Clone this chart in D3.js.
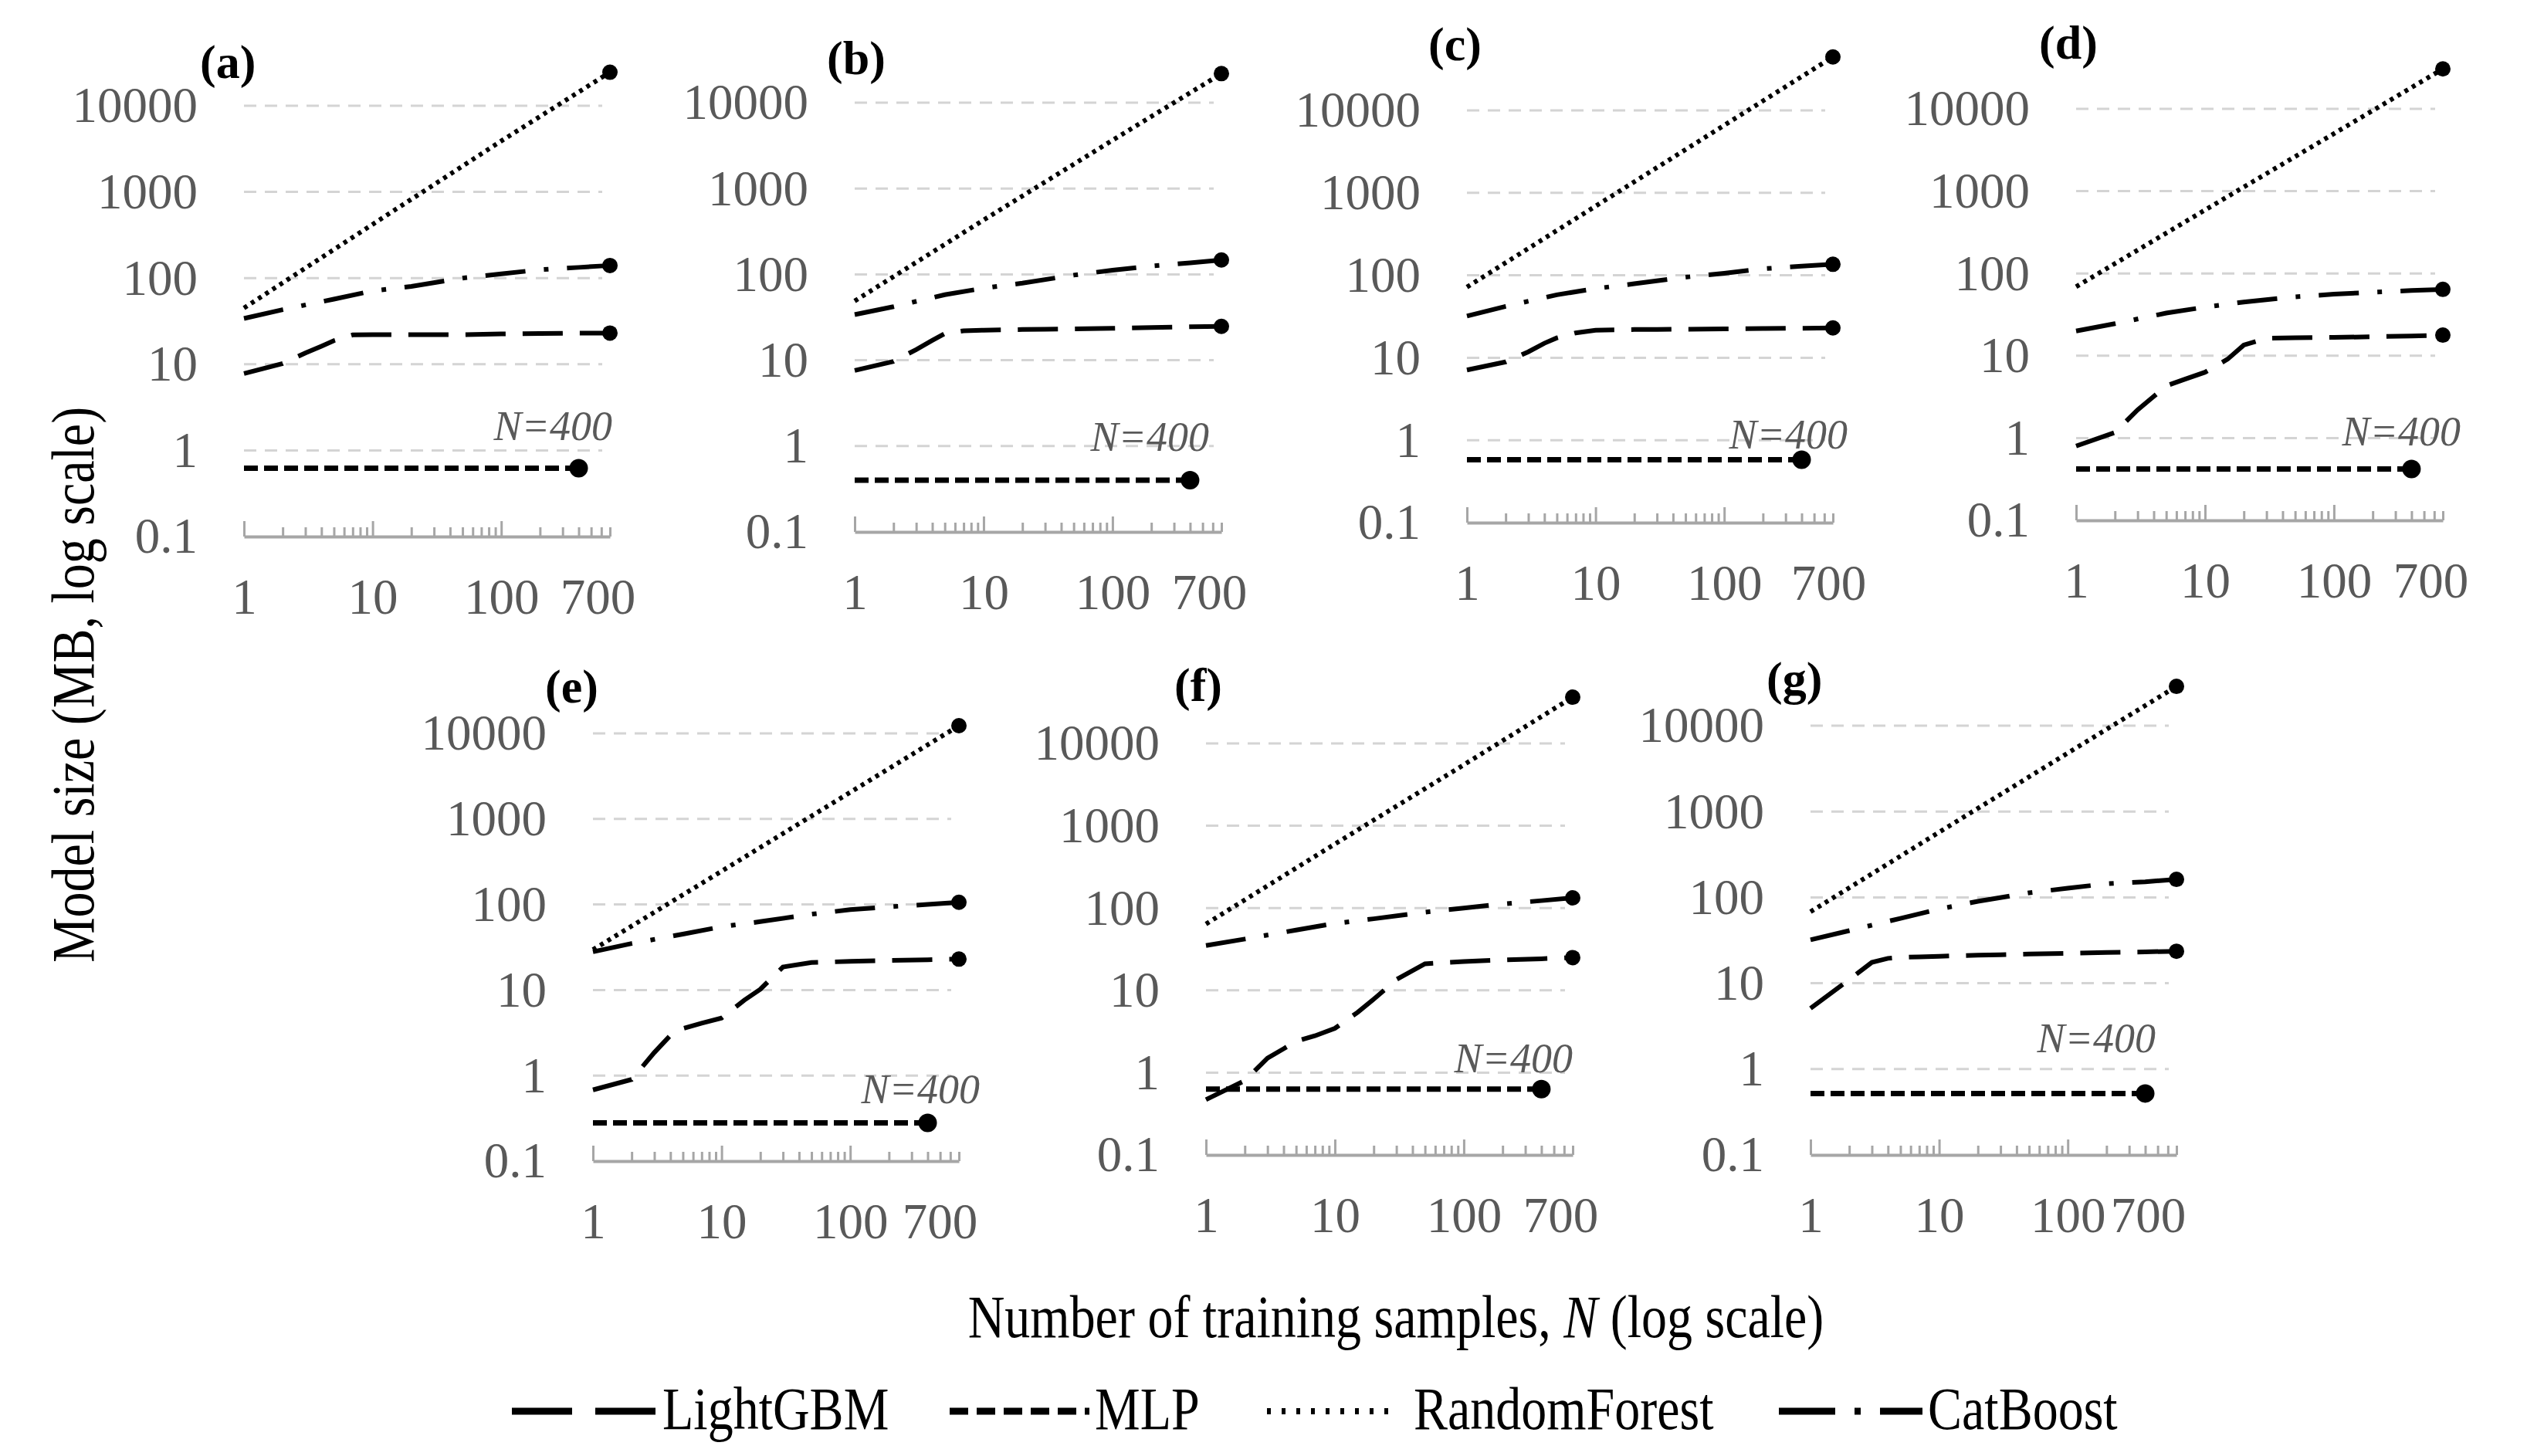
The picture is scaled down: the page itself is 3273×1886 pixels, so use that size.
<!DOCTYPE html>
<html>
<head>
<meta charset="utf-8">
<script src="https://cdn.jsdelivr.net/npm/d3@7"></script>
<style>
  body { margin: 0; background: #fff; }
  svg { display: block; }
  svg text { font-family: "Liberation Serif", "Times New Roman", serif; }
</style>
</head>
<body>
<div id="chart"></div>
<script>
// ── Data ──────────────────────────────────────────────────────────────────
const panelLabels = ["(a)", "(b)", "(c)", "(d)", "(e)", "(f)", "(g)"];
const models = ["LightGBM", "MLP", "RandomForest", "CatBoost"];
const xTicks = [1, 10, 100, 700];
const yTicks = [0.1, 1, 10, 100, 1000, 10000];

// LightGBM, model size (MB) per panel at these N
const lightgbmN = [1, 2, 3, 4, 5, 7, 10, 15, 20, 30, 50, 100, 200, 400, 700];
const lightgbmMB = [
  [7.8, 10.2, 13.5, 16.2, 18.8, 21.9, 22, 22, 22, 22, 22, 22.5, 22.7, 23, 23],
  [7.6, 9.7, 13.3, 17, 20.4, 22, 22.4, 22.6, 22.8, 23, 23.2, 23.5, 24, 24.5, 24.8],
  [7.1, 8.9, 11.8, 15, 17.4, 20, 21.6, 21.8, 22, 22, 22.2, 22.4, 22.6, 22.8, 23],
  [0.8, 1.17, 2.2, 3.2, 4.3, 5.2, 6.3, 9.1, 13.5, 16.3, 16.5, 16.7, 17, 17.4, 17.8],
  [0.68, 0.9, 1.86, 2.95, 3.55, 4.1, 4.7, 7.6, 10.2, 18.6, 21, 21.6, 22.2, 22.6, 23],
  [0.47, 0.8, 1.5, 1.95, 2.4, 2.8, 3.45, 5.4, 7.8, 13.5, 21, 22.4, 23.4, 24.2, 25],
  [5.1, 11, 17.5, 19.5, 20, 20.3, 20.6, 21, 21.2, 21.5, 21.9, 22.3, 22.8, 23.2, 23.6],
];

// MLP (trained up to N = 400 only)
const mlpN = [1, 400];
const mlpMB = [
  [0.62, 0.62], [0.4, 0.4], [0.58, 0.58], [0.42, 0.42],
  [0.28, 0.28], [0.63, 0.63], [0.52, 0.52],
];

// RandomForest
const forestN = [1, 10, 100, 700];
const forestMB = [
  [45, 420, 3900, 24500],
  [49, 430, 3650, 21800],
  [72, 690, 6600, 44500],
  [69, 590, 5000, 30600],
  [29.6, 245, 2050, 12300],
  [64, 600, 5500, 36500],
  [68, 575, 4800, 28700],
];

// CatBoost
const catboostN = [1, 2, 5, 10, 20, 50, 100, 200, 400, 700];
const catboostMB = [
  [34, 43, 57, 71, 80, 100, 112, 125, 133, 140],
  [34, 42, 58, 69, 79, 98, 112, 125, 136, 147],
  [32, 42, 58, 69, 79, 95, 106, 120, 129, 136],
  [20, 24.5, 33, 39, 45, 52, 56, 59, 62, 64],
  [28, 35, 45, 55, 63, 77, 87, 94, 100, 106],
  [35, 42, 54, 65, 74, 89, 100, 112, 123, 133],
  [32, 41, 57, 73, 90, 113, 128, 144, 152, 162],
];

// ── Layout ────────────────────────────────────────────────────────────────
const W = 3273, H = 1886;
// plot box of each panel: x of N=1 / N=700, y of 10000 / 0.1
const panelBoxes = [
  { x0: 316, x1: 790, yTop: 137, yAxis: 695 },
  { x0: 1107, x1: 1582, yTop: 133, yAxis: 689 },
  { x0: 1900, x1: 2374, yTop: 143, yAxis: 677 },
  { x0: 2689, x1: 3164, yTop: 141, yAxis: 674 },
  { x0: 768, x1: 1242, yTop: 950, yAxis: 1504 },
  { x0: 1562, x1: 2037, yTop: 963, yAxis: 1496 },
  { x0: 2345, x1: 2819, yTop: 940, yAxis: 1496 },
];
const panelLabelPos = [[259, 101], [1071, 96], [1850, 78], [2641, 76], [706, 910], [1521, 908], [2288, 900]];
const lastLabelDx = [-16, -16, -6, -16, -25, -16, -37];
const nLabelDx = [3, -16, 19, 23, 27, 0, -27];
const nLabelDy = [-13, 6, 11, 10, 36, 0, -22];

const styles = {
  LightGBM: { dash: "52,22", width: 6, legendDash: "78,30" },
  MLP: { dash: "18,8", width: 7, legendDash: "24,11" },
  RandomForest: { dash: "5,6", width: 6, legendDash: "5,14" },
  CatBoost: { dash: "52,24,6,24", width: 6, legendDash: "73,25,8,25" },
};

const tickGrey = "#595959";
const axisGrey = "#a6a6a6";

// ── SVG ───────────────────────────────────────────────────────────────────
const svg = d3.select("#chart")
  .append("svg")
  .attr("width", W)
  .attr("height", H)
  .attr("viewBox", `0 0 ${W} ${H}`);

svg.append("rect").attr("width", W).attr("height", H).attr("fill", "#fff");

const lineGen = (x, y) => d3.line().x((d) => x(d[0])).y((d) => y(d[1]));
const pairs = (ns, vals) => ns.map((n, j) => [n, vals[j]]).filter((d) => d[1] != null);

// ── Panels ────────────────────────────────────────────────────────────────
panelLabels.forEach((label, i) => {
  const box = panelBoxes[i];
  const x = d3.scaleLog().domain([1, 700]).range([box.x0, box.x1]);
  const y = d3.scaleLog().domain([0.1, 10000]).range([box.yAxis, box.yTop]);
  const g = svg.append("g").attr("class", "panel");

  // grid lines
  g.append("g")
    .selectAll("line")
    .data(yTicks.filter((v) => v > 0.1))
    .join("line")
    .attr("x1", box.x0)
    .attr("x2", box.x1 - 10)
    .attr("y1", (d) => y(d))
    .attr("y2", (d) => y(d))
    .attr("stroke", "#d4d4d4")
    .attr("stroke-width", 3)
    .attr("stroke-dasharray", "16,11");

  // x axis line with log minor ticks (pointing up)
  const majors = [1, 10, 100];
  const minorAxis = g.append("g")
    .attr("transform", `translate(0,${box.yAxis})`)
    .call(d3.axisTop(x).tickValues(x.ticks().filter((v) => !majors.includes(v)))
      .tickSize(12).tickSizeOuter(0).tickFormat(""));
  minorAxis.select(".domain").attr("stroke", axisGrey).attr("stroke-width", 4);
  minorAxis.selectAll(".tick line").attr("stroke", axisGrey).attr("stroke-width", 3);

  const majorAxis = g.append("g")
    .attr("transform", `translate(0,${box.yAxis})`)
    .call(d3.axisTop(x).tickValues(majors).tickSize(20).tickFormat(""));
  majorAxis.select(".domain").remove();
  majorAxis.selectAll(".tick line").attr("stroke", axisGrey).attr("stroke-width", 3);

  // x tick labels
  const xLab = g.append("g")
    .attr("transform", `translate(0,${box.yAxis})`)
    .call(d3.axisBottom(x).tickValues(xTicks).tickSize(0).tickPadding(54).tickFormat(d3.format("d")));
  xLab.select(".domain").remove();
  xLab.selectAll("text")
    .attr("font-size", 65)
    .attr("fill", tickGrey)
    .filter((d) => d === 700)
    .attr("dx", lastLabelDx[i]);

  // y tick labels
  const yLab = g.append("g")
    .attr("transform", `translate(${box.x0},0)`)
    .call(d3.axisLeft(y).tickValues(yTicks).tickSize(0).tickPadding(60).tickFormat(d3.format("~g")));
  yLab.select(".domain").remove();
  yLab.selectAll("text")
    .attr("font-size", 65)
    .attr("fill", tickGrey);

  // series
  const series = [
    { name: "MLP", pts: pairs(mlpN, mlpMB[i]), r: 12 },
    { name: "LightGBM", pts: pairs(lightgbmN, lightgbmMB[i]), r: 10 },
    { name: "CatBoost", pts: pairs(catboostN, catboostMB[i]), r: 10 },
    { name: "RandomForest", pts: pairs(forestN, forestMB[i]), r: 10 },
  ];
  series.forEach((s) => {
    const st = styles[s.name];
    g.append("path")
      .datum(s.pts)
      .attr("d", lineGen(x, y))
      .attr("fill", "none")
      .attr("stroke", "#000")
      .attr("stroke-width", st.width)
      .attr("stroke-dasharray", st.dash);
    const last = s.pts[s.pts.length - 1];
    g.append("circle")
      .attr("cx", x(last[0]))
      .attr("cy", y(last[1]))
      .attr("r", s.r)
      .attr("fill", "#000");
  });

  // N=400 annotation
  g.append("text")
    .attr("x", box.x1 + nLabelDx[i])
    .attr("y", y(1) + nLabelDy[i])
    .attr("text-anchor", "end")
    .attr("font-size", 54)
    .attr("font-style", "italic")
    .attr("fill", tickGrey)
    .text("N=400");

  // panel label
  g.append("text")
    .attr("x", panelLabelPos[i][0])
    .attr("y", panelLabelPos[i][1])
    .attr("font-size", 62)
    .attr("font-weight", "bold")
    .attr("fill", "#000")
    .text(label);
});

// ── Axis titles ───────────────────────────────────────────────────────────
svg.append("text")
  .attr("transform", "translate(95,887) rotate(-90) scale(1,1.18)")
  .attr("text-anchor", "middle")
  .attr("dominant-baseline", "central")
  .attr("font-size", 66)
  .attr("fill", "#000")
  .text("Model size (MB, log scale)");

const xTitle = svg.append("text")
  .attr("transform", "translate(1808,1732) scale(1,1.18)")
  .attr("text-anchor", "middle")
  .attr("font-size", 66)
  .attr("fill", "#000");
xTitle.append("tspan").text("Number of training samples, ");
xTitle.append("tspan").attr("font-style", "italic").text("N");
xTitle.append("tspan").text(" (log scale)");

// ── Legend ────────────────────────────────────────────────────────────────
const legendPos = [
  { x0: 663, x1: 854, tx: 858 },
  { x0: 1230, x1: 1411, tx: 1418 },
  { x0: 1641, x1: 1810, tx: 1831 },
  { x0: 2304, x1: 2490, tx: 2497 },
];
const legend = svg.append("g").attr("class", "legend");
models.forEach((m, i) => {
  const p = legendPos[i];
  legend.append("line")
    .attr("x1", p.x0).attr("x2", p.x1)
    .attr("y1", 1828).attr("y2", 1828)
    .attr("stroke", "#000")
    .attr("stroke-width", m === "RandomForest" ? 8 : 9)
    .attr("stroke-dasharray", styles[m].legendDash);
  legend.append("text")
    .attr("transform", `translate(${p.tx},1851) scale(1,1.18)`)
    .attr("font-size", 66)
    .attr("fill", "#000")
    .text(m);
});
</script>
</body>
</html>
